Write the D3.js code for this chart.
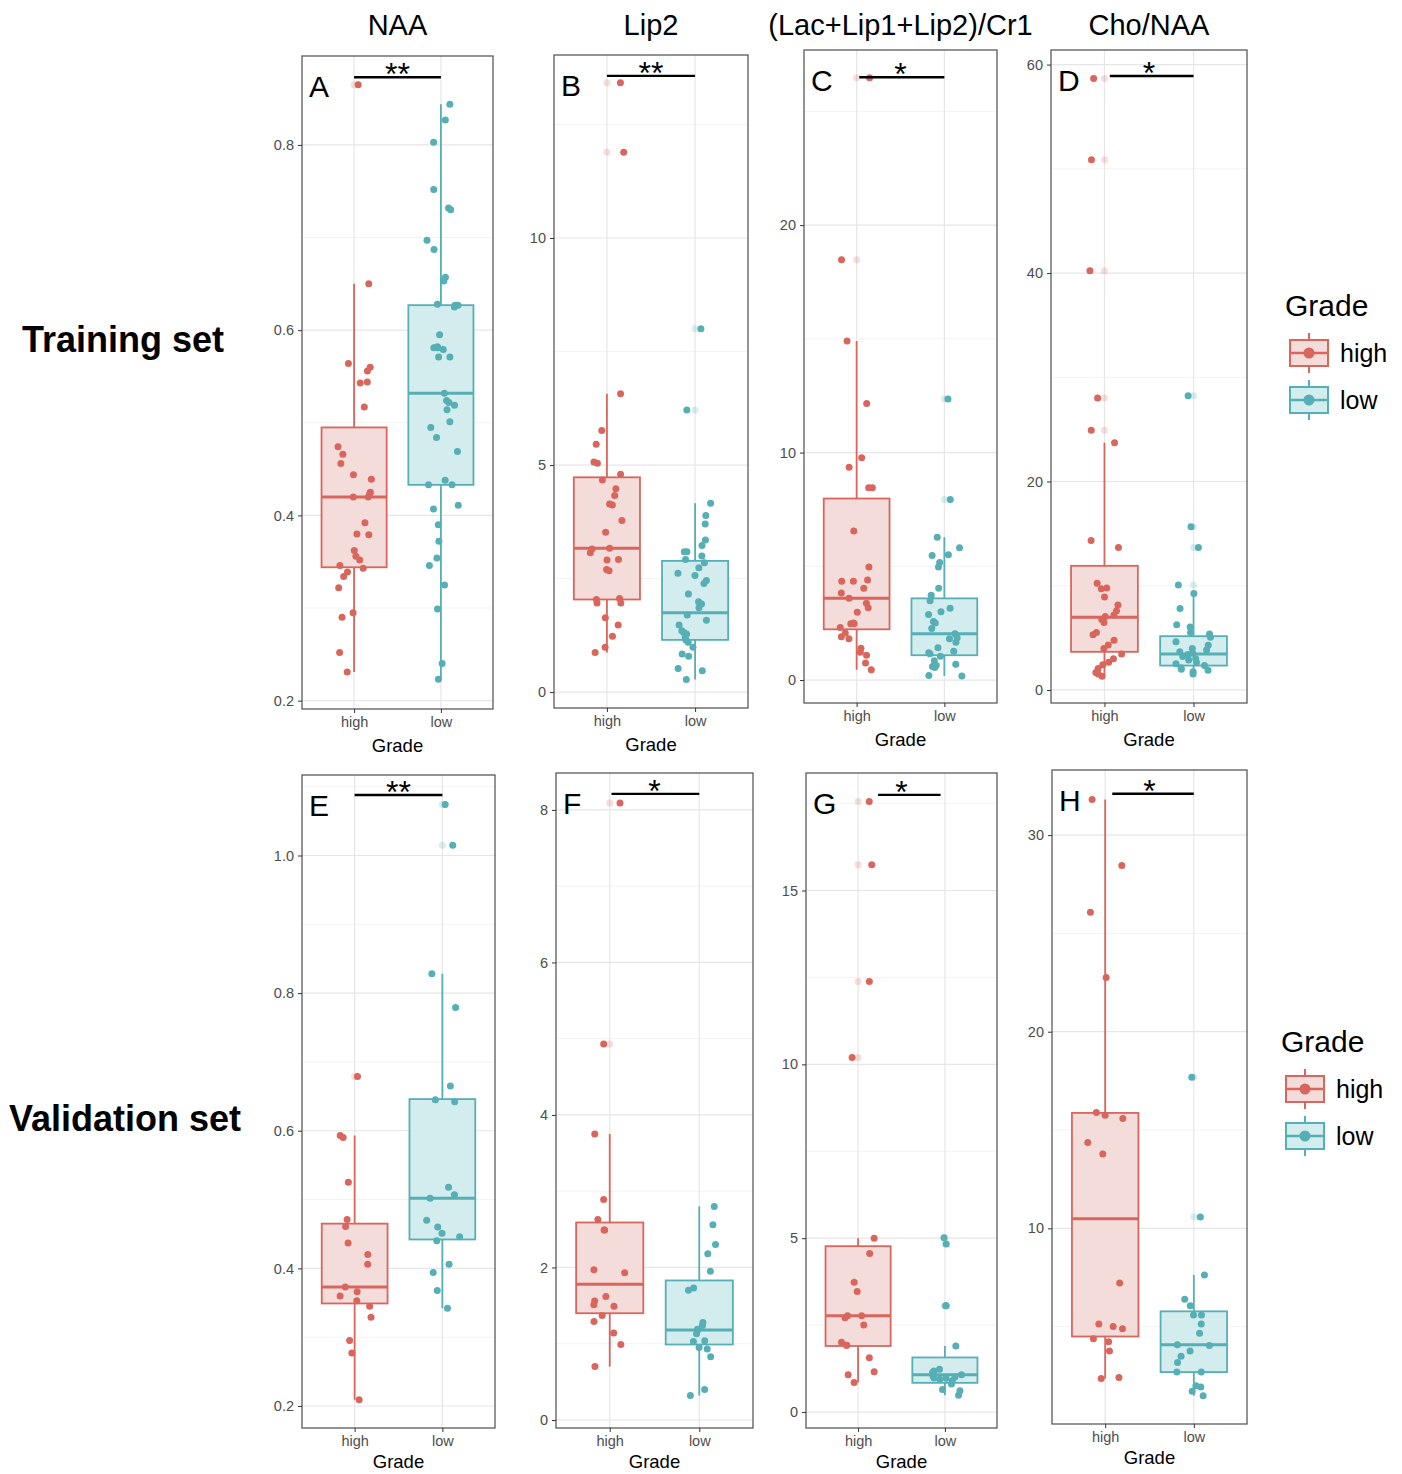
<!DOCTYPE html>
<html>
<head>
<meta charset="utf-8">
<script src="https://cdn.jsdelivr.net/npm/d3@7"></script>
<style>
  body { margin: 0; background: #fff; }
  svg { display: block; }
  text { font-family: "Liberation Sans", Arial, Helvetica, sans-serif; }
</style>
</head>
<body>
<div id="chart"></div>
<script>
// column + row headings
var columnTitles = ["NAA", "Lip2", "(Lac+Lip1+Lip2)/Cr1", "Cho/NAA"];
var rowTitles = ["Training set", "Validation set"];
var panelLetters = ["A", "B", "C", "D", "E", "F", "G", "H"];
var grades = ["high", "low"];

// points (training set)
var naaTrainHigh = [0.865, 0.650, 0.564, 0.560, 0.556, 0.543, 0.544, 0.517, 0.474, 0.466, 0.456, 0.444, 0.439, 0.425, 0.423, 0.420, 0.420, 0.392, 0.380, 0.379, 0.362, 0.356, 0.352, 0.346, 0.343, 0.339, 0.334, 0.322, 0.295, 0.290, 0.252, 0.231];
var naaTrainLow = [0.844, 0.827, 0.803, 0.752, 0.732, 0.730, 0.697, 0.687, 0.657, 0.653, 0.627, 0.628, 0.627, 0.625, 0.595, 0.582, 0.581, 0.581, 0.579, 0.571, 0.571, 0.532, 0.524, 0.522, 0.519, 0.514, 0.501, 0.495, 0.484, 0.469, 0.438, 0.433, 0.433, 0.411, 0.407, 0.390, 0.372, 0.354, 0.346, 0.325, 0.299, 0.240, 0.223];
var lip2TrainHigh = [13.42, 11.89, 6.57, 5.76, 5.46, 5.07, 5.04, 4.80, 4.67, 4.48, 4.33, 4.14, 4.12, 3.78, 3.52, 3.17, 3.15, 3.07, 2.92, 2.91, 2.70, 2.67, 2.06, 2.04, 1.96, 1.96, 1.64, 1.48, 1.23, 0.99, 0.87];
var lip2TrainLow = [8.00, 6.21, 4.16, 3.89, 3.70, 3.35, 3.23, 3.09, 3.09, 3.00, 2.92, 2.85, 2.74, 2.62, 2.57, 2.46, 2.39, 2.16, 1.99, 1.94, 1.86, 1.70, 1.58, 1.48, 1.35, 1.32, 1.28, 1.20, 1.15, 1.10, 0.99, 0.84, 0.79, 0.52, 0.47, 0.28];
var ratioTrainHigh = [26.48, 18.48, 14.91, 12.16, 9.77, 9.36, 8.45, 8.45, 6.55, 4.97, 4.40, 4.34, 4.34, 4.03, 3.83, 3.59, 3.38, 3.18, 2.98, 2.51, 2.47, 2.47, 2.31, 2.07, 1.90, 1.82, 1.40, 1.22, 1.09, 0.75, 0.45];
var ratioTrainLow = [12.36, 7.94, 6.28, 5.82, 5.51, 5.47, 5.17, 4.97, 4.03, 3.73, 3.49, 3.16, 3.00, 2.88, 2.57, 2.51, 2.27, 2.03, 1.86, 1.82, 1.66, 1.42, 1.26, 1.20, 1.15, 1.05, 0.85, 0.69, 0.65, 0.59, 0.55, 0.20, 0.18];
var choTrainHigh = [58.67, 50.86, 40.23, 28.01, 24.92, 23.73, 14.34, 13.67, 10.23, 9.79, 9.70, 8.91, 8.16, 7.59, 7.19, 7.06, 6.75, 6.48, 5.51, 5.29, 4.76, 4.32, 3.97, 3.44, 3.00, 2.65, 2.43, 2.07, 1.68, 1.54, 1.32];
var choTrainLow = [28.23, 15.66, 13.67, 10.06, 9.26, 7.81, 6.26, 6.04, 5.51, 5.38, 5.07, 4.63, 4.28, 3.97, 3.84, 3.66, 3.53, 3.40, 3.22, 3.00, 2.87, 2.65, 2.51, 2.34, 2.12, 1.99, 1.90, 1.76, 1.54];

// points (validation set)
var naaValidHigh = [0.679, 0.593, 0.590, 0.525, 0.471, 0.461, 0.437, 0.420, 0.406, 0.373, 0.366, 0.360, 0.353, 0.345, 0.329, 0.295, 0.277, 0.209];
var naaValidLow = [1.074, 1.015, 0.828, 0.779, 0.665, 0.645, 0.642, 0.518, 0.507, 0.502, 0.470, 0.460, 0.451, 0.446, 0.440, 0.406, 0.394, 0.368, 0.342];
var lip2ValidHigh = [8.09, 4.93, 3.75, 2.89, 2.63, 2.49, 2.49, 1.97, 1.93, 1.62, 1.56, 1.51, 1.49, 1.37, 1.29, 1.14, 0.99, 0.70];
var lip2ValidLow = [2.80, 2.56, 2.30, 2.18, 1.95, 1.73, 1.70, 1.28, 1.24, 1.19, 1.17, 1.13, 1.04, 1.03, 0.95, 0.93, 0.83, 0.40, 0.32];
var ratioValidHigh = [17.56, 15.74, 12.38, 10.20, 5.00, 4.56, 3.73, 3.47, 2.77, 2.77, 2.71, 2.50, 2.01, 1.92, 1.92, 1.56, 1.16, 1.07, 0.85];
var ratioValidLow = [5.01, 4.83, 3.06, 3.06, 1.90, 1.23, 1.18, 1.14, 1.07, 1.03, 1.01, 0.98, 0.97, 0.94, 0.90, 0.81, 0.65, 0.61, 0.48];
var choValidHigh = [31.81, 28.45, 26.08, 22.76, 15.89, 15.75, 15.59, 14.36, 13.78, 7.22, 5.13, 5.01, 4.90, 4.39, 4.23, 3.76, 2.41, 2.37];
var choValidLow = [17.68, 10.58, 7.63, 6.40, 6.06, 5.59, 5.59, 5.13, 4.66, 4.08, 4.04, 3.76, 3.50, 3.18, 2.69, 2.69, 2.00, 1.93, 1.72, 1.49];

// box stats: [lower whisker, q1, median, q3, upper whisker]
var boxHigh = [
	[0.231, 0.344, 0.420, 0.495, 0.650],
	[0.87, 2.04, 3.17, 4.73, 6.57],
	[0.45, 2.23, 3.59, 7.98, 14.91],
	[1.32, 3.66, 6.97, 11.91, 23.73],
	[0.209, 0.349, 0.373, 0.465, 0.593],
	[0.70, 1.40, 1.78, 2.59, 3.75],
	[0.85, 1.90, 2.77, 4.77, 5.00],
	[2.37, 4.50, 10.49, 15.87, 31.81]
];
var boxLow = [
	[0.223, 0.433, 0.532, 0.627, 0.844],
	[0.28, 1.15, 1.75, 2.89, 4.16],
	[0.18, 1.09, 2.03, 3.59, 6.28],
	[1.54, 2.34, 3.44, 5.16, 9.26],
	[0.342, 0.442, 0.502, 0.646, 0.828],
	[0.32, 0.99, 1.18, 1.83, 2.80],
	[0.48, 0.84, 1.07, 1.57, 1.90],
	[1.49, 2.69, 4.08, 5.78, 7.63]
];

// axis limits and ticks of each panel
var yLimits = [[0.191, 0.896], [-0.35, 14.03], [-1.01, 27.7], [-1.25, 61.4], [0.168, 1.117], [-0.105, 8.484], [-0.459, 18.38], [0.05, 33.31]];
var yTicks = [[0.2, 0.4, 0.6, 0.8], [0, 5, 10], [0, 10, 20], [0, 20, 40, 60], [0.2, 0.4, 0.6, 0.8, 1.0], [0, 2, 4, 6, 8], [0, 5, 10, 15], [10, 20, 30]];

// significance bars: label, height, span in category units (1 = high, 2 = low)
var sigLabels = ["**", "**", "*", "*", "**", "*", "*", "*"];
var sigHeights = [0.873, 13.57, 26.5, 58.9, 1.088, 8.21, 17.75, 32.1];
var sigSpans = [[1, 2], [1, 2], [1.03, 2], [1.06, 2], [1, 2], [1.02, 2], [1.23, 1.95], [1.08, 2]];

var highPts = [naaTrainHigh, lip2TrainHigh, ratioTrainHigh, choTrainHigh, naaValidHigh, lip2ValidHigh, ratioValidHigh, choValidHigh];
var lowPts = [naaTrainLow, lip2TrainLow, ratioTrainLow, choTrainLow, naaValidLow, lip2ValidLow, ratioValidLow, choValidLow];

// panel frames [left, top, right, bottom]
var frames = [
	[302, 56, 493, 709], [554, 55, 748, 708], [804, 50, 997, 703], [1051, 50, 1247, 703],
	[302, 775, 495, 1428], [556, 773, 753, 1428], [806, 773, 997, 1428], [1052, 770, 1247, 1424]
];

var colors = { high: "#D9665D", low: "#56AFB4" };
var fills = { high: "#F4DCDA", low: "#D3ECEE" };

var width = 1402, height = 1474;
var svg = d3.select("#chart").append("svg")
	.attr("width", width)
	.attr("height", height);

svg.append("rect").attr("width", width).attr("height", height).attr("fill", "#fff");

var rng = d3.randomLcg(0.4213);

frames.forEach(function(f, i) {
	var x0 = f[0], y0 = f[1], x1 = f[2], y1 = f[3];
	var x = d3.scalePoint().domain(grades).range([x0, x1]).padding(0.6);
	var step = x.step();
	var y = d3.scaleLinear().domain(yLimits[i]).range([y1, y0]);
	var g = svg.append("g");

	// grid
	var ticks = yTicks[i];
	var tstep = ticks[1] - ticks[0];
	var minor = [];
	for (var v = ticks[0] - tstep / 2; v < yLimits[i][1]; v += tstep) {
		if (v > yLimits[i][0]) minor.push(v);
	}
	g.selectAll(".minor").data(minor).enter().append("line")
		.attr("x1", x0).attr("x2", x1)
		.attr("y1", d => y(d)).attr("y2", d => y(d))
		.attr("stroke", "#F3F3F3").attr("stroke-width", 1);
	g.selectAll(".major").data(ticks).enter().append("line")
		.attr("x1", x0).attr("x2", x1)
		.attr("y1", d => y(d)).attr("y2", d => y(d))
		.attr("stroke", "#E6E6E6").attr("stroke-width", 1.2);
	g.selectAll(".vmajor").data(grades).enter().append("line")
		.attr("x1", d => x(d)).attr("x2", d => x(d))
		.attr("y1", y0).attr("y2", y1)
		.attr("stroke", "#E6E6E6").attr("stroke-width", 1.2);

	// boxes
	[["high", boxHigh[i], highPts[i]], ["low", boxLow[i], lowPts[i]]].forEach(function(b) {
		var grade = b[0], s = b[1], pts = b[2];
		var cx = x(grade);
		var hw = step * 0.375;
		g.append("line")
			.attr("x1", cx).attr("x2", cx)
			.attr("y1", y(s[0])).attr("y2", y(s[4]))
			.attr("stroke", colors[grade]).attr("stroke-width", 1.8);
		g.append("rect")
			.attr("x", cx - hw).attr("width", hw * 2)
			.attr("y", y(s[3])).attr("height", y(s[1]) - y(s[3]))
			.attr("fill", fills[grade])
			.attr("stroke", colors[grade]).attr("stroke-width", 1.8);
		g.append("line")
			.attr("x1", cx - hw).attr("x2", cx + hw)
			.attr("y1", y(s[2])).attr("y2", y(s[2]))
			.attr("stroke", colors[grade]).attr("stroke-width", 3);
		// boxplot outliers, drawn faint at the centre
		var outs = pts.filter(d => d > s[4] + 1e-9 || d < s[0] - 1e-9);
		g.selectAll(null).data(outs).enter().append("circle")
			.attr("cx", cx).attr("cy", d => y(d)).attr("r", 3.5)
			.attr("fill", colors[grade]).attr("fill-opacity", 0.22);
	});

	// jittered points
	[["high", highPts[i]], ["low", lowPts[i]]].forEach(function(b) {
		var grade = b[0];
		g.selectAll(null).data(b[1]).enter().append("circle")
			.attr("cx", () => x(grade) + (rng() - 0.5) * 0.4 * step)
			.attr("cy", d => y(d))
			.attr("r", 3.5)
			.attr("fill", colors[grade]);
	});

	// frame
	g.append("rect")
		.attr("x", x0).attr("y", y0)
		.attr("width", x1 - x0).attr("height", y1 - y0)
		.attr("fill", "none").attr("stroke", "#4d4d4d").attr("stroke-width", 1.2);

	// axes
	var fmt = (i % 4 === 0) ? d3.format(".1f") : d3.format("d");
	var ya = g.append("g").attr("transform", "translate(" + x0 + ",0)")
		.call(d3.axisLeft(y).tickValues(ticks).tickSize(4).tickPadding(4).tickFormat(fmt));
	var xa = g.append("g").attr("transform", "translate(0," + y1 + ")")
		.call(d3.axisBottom(x).tickSize(4).tickPadding(4));
	[ya, xa].forEach(function(a) {
		a.select(".domain").remove();
		a.selectAll(".tick line").attr("stroke", "#333");
		a.selectAll(".tick text").attr("fill", "#4d4d4d")
			.style("font-size", "14.5px")
			.style("font-family", "'Liberation Sans', Arial, sans-serif");
	});

	g.append("text")
		.attr("x", (x0 + x1) / 2).attr("y", y1 + (i < 4 ? 43 : 40))
		.attr("text-anchor", "middle")
		.style("font-size", "18.5px")
		.text("Grade");

	// panel letter
	g.append("text")
		.attr("x", x0 + 7).attr("y", y0 + 41)
		.style("font-size", "30px")
		.text(panelLetters[i]);

	// significance bar
	var hx = x("high");
	var sx1 = hx + (sigSpans[i][0] - 1) * step;
	var sx2 = hx + (sigSpans[i][1] - 1) * step;
	var sy = y(sigHeights[i]);
	g.append("line")
		.attr("x1", sx1).attr("x2", sx2)
		.attr("y1", sy).attr("y2", sy)
		.attr("stroke", "#000").attr("stroke-width", 2.4);
	g.append("text")
		.attr("x", (hx + hx + step) / 2).attr("y", sy + 8)
		.attr("text-anchor", "middle")
		.style("font-size", "32px")
		.text(sigLabels[i]);

	if (i < 4) {
		svg.append("text")
			.attr("x", (x0 + x1) / 2).attr("y", 35)
			.attr("text-anchor", "middle")
			.style("font-size", "29px")
			.text(columnTitles[i]);
	}
});

// row titles
svg.append("text").attr("x", 22).attr("y", 352)
	.style("font-size", "36px").style("font-weight", "bold")
	.text(rowTitles[0]);
svg.append("text").attr("x", 9).attr("y", 1131)
	.style("font-size", "36px").style("font-weight", "bold")
	.text(rowTitles[1]);

// legends
function legend(lx, ly) {
	var lg = svg.append("g").attr("transform", "translate(" + lx + "," + ly + ")");
	lg.append("text").attr("x", 0).attr("y", 0)
		.style("font-size", "30px").text("Grade");
	grades.forEach(function(grade, k) {
		var cy = 37 + k * 47;
		var kx = 5, kw = 38;
		lg.append("line")
			.attr("x1", kx + kw / 2).attr("x2", kx + kw / 2)
			.attr("y1", cy - 20).attr("y2", cy + 20)
			.attr("stroke", colors[grade]).attr("stroke-width", 2);
		lg.append("rect")
			.attr("x", kx).attr("y", cy - 13).attr("width", kw).attr("height", 26)
			.attr("fill", fills[grade]).attr("stroke", colors[grade]).attr("stroke-width", 2);
		lg.append("line")
			.attr("x1", kx).attr("x2", kx + kw)
			.attr("y1", cy).attr("y2", cy)
			.attr("stroke", colors[grade]).attr("stroke-width", 2.5);
		lg.append("circle")
			.attr("cx", kx + kw / 2).attr("cy", cy).attr("r", 5.5)
			.attr("fill", colors[grade]);
		lg.append("text")
			.attr("x", kx + kw + 12).attr("y", cy + 9)
			.style("font-size", "25px")
			.text(grade);
	});
}
legend(1285, 316);
legend(1281, 1052);
</script>
</body>
</html>
